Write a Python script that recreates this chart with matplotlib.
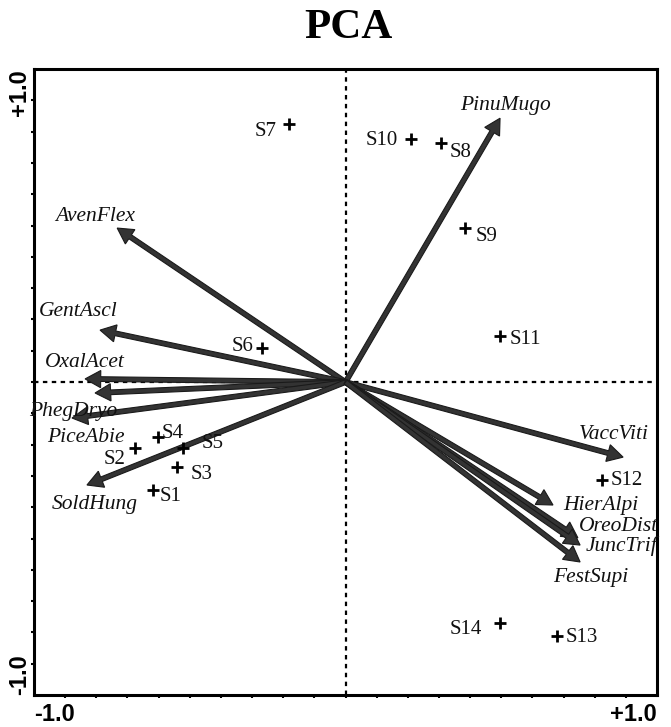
import matplotlib
matplotlib.use("Agg")
import matplotlib.pyplot as plt
import numpy as np

# Species arrows (PCA loadings)
species = ["PinuMugo", "AvenFlex", "GentAscl", "OxalAcet", "PhegDryo", "PiceAbie",
           "SoldHung", "VaccViti", "HierAlpi", "OreoDist", "JuncTrif", "FestSupi"]
sp_x = [0.496, -0.733, -0.788, -0.836, -0.804, -0.878, -0.830, 0.891, 0.666, 0.746, 0.753, 0.753]
sp_y = [0.843, 0.492, 0.166, 0.010, -0.035, -0.115, -0.329, -0.240, -0.393, -0.498, -0.521, -0.575]
# species label positions
sp_lx = [0.515, -0.804, -0.859, -0.836, -0.875, -0.833, -0.804, 0.863, 0.820, 0.875, 0.885, 0.788]
sp_ly = [0.885, 0.530, 0.224, 0.064, -0.093, -0.176, -0.390, -0.169, -0.393, -0.463, -0.524, -0.626]

# Sample scores
samples = ["S1", "S2", "S3", "S4", "S5", "S6", "S7", "S8", "S9", "S10", "S11", "S12", "S13", "S14"]
s_x = [-0.618, -0.675, -0.541, -0.602, -0.522, -0.268, -0.181, 0.307, 0.384, 0.210, 0.496, 0.823, 0.679, 0.496]
s_y = [-0.345, -0.211, -0.272, -0.176, -0.211, 0.109, 0.824, 0.764, 0.492, 0.776, 0.147, -0.313, -0.812, -0.770]
# sample label positions
s_lx = [-0.563, -0.743, -0.461, -0.554, -0.428, -0.332, -0.258, 0.368, 0.453, 0.117, 0.576, 0.904, 0.759, 0.387]
s_ly = [-0.367, -0.246, -0.294, -0.163, -0.195, 0.112, 0.802, 0.732, 0.466, 0.773, 0.137, -0.316, -0.815, -0.792]

fig = plt.figure(figsize=(6.71, 7.27), dpi=100)
ax = fig.add_axes([0.0507, 0.044, 0.9285, 0.861])
ax.set_xlim(-1, 1)
ax.set_ylim(-1, 1)

ax.axhline(0, color="black", lw=1.6, ls=(0, (2, 2)), zorder=1)
ax.axvline(0, color="black", lw=1.6, ls=(0, (2, 2)), zorder=1)

for x, y in zip(sp_x, sp_y):
    ax.arrow(0, 0, x, y, width=0.015, head_width=0.055, head_length=0.05,
             length_includes_head=True, fc="#333333", ec="#1a1a1a", lw=0.8, zorder=3)

for name, lx, ly in zip(species, sp_lx, sp_ly):
    ax.text(lx, ly, name, family="Liberation Serif", style="italic", fontsize=15.5,
            ha="center", va="center", color="#111111", zorder=4)

ax.plot(s_x, s_y, ls="none", marker="+", ms=9, mew=2, color="black", zorder=4)
for name, lx, ly in zip(samples, s_lx, s_ly):
    ax.text(lx, ly, name, family="Liberation Serif", fontsize=15,
            ha="center", va="center", color="#111111", zorder=4)

for sp in ax.spines.values():
    sp.set_linewidth(2.2)

ax.set_xticks([-1, 1])
ax.set_xticklabels(["-1.0", "+1.0"], family="Liberation Sans", fontweight="bold", fontsize=17)
ax.get_xticklabels()[0].set_ha("left")
ax.get_xticklabels()[1].set_ha("right")
ax.set_yticks([-1, 1])
ax.set_yticklabels(["-1.0", "+1.0"], family="Liberation Sans", fontweight="bold", fontsize=17,
                   rotation=90)
ax.get_yticklabels()[0].set_va("bottom")
ax.get_yticklabels()[1].set_va("top")
ax.tick_params(axis="both", which="major", length=0, pad=6)
ax.tick_params(axis="y", which="major", pad=2)
ax.set_xticks(np.arange(-0.9, 0.95, 0.1), minor=True)
ax.set_yticks(np.arange(-0.9, 0.95, 0.1), minor=True)
ax.tick_params(which="minor", length=2.5, width=1.5, direction="out")

fig.text(0.519, 0.961, "PCA", family="Liberation Serif", fontweight="bold", fontsize=31,
         ha="center", va="center")

fig.savefig("out.png", dpi=100)
